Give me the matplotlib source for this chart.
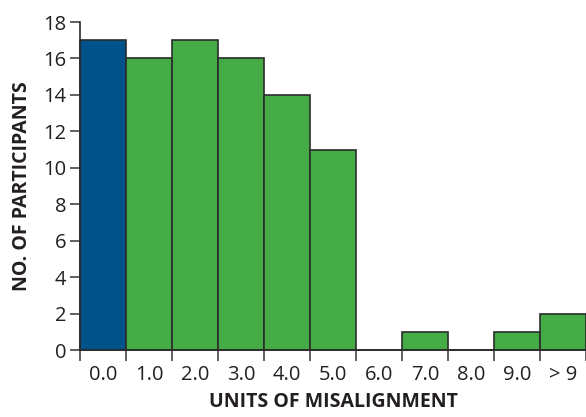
import matplotlib.pyplot as plt
import numpy as np

categories = ['0.0', '1.0', '2.0', '3.0', '4.0', '5.0', '6.0', '7.0', '8.0', '9.0', '> 9']
participants = [17, 16, 17, 16, 14, 11, 0, 1, 0, 1, 2]
colors = ['#00528a'] + ['#45ab45'] * 10

plt.rcParams['font.family'] = ['Open Sans', 'DejaVu Sans']

fig = plt.figure(figsize=(5.86, 4.17), dpi=100)
ax = fig.add_axes([80 / 586, 1 - 350 / 417, 1 - 80 / 586, (350 - 22) / 417])

x = np.arange(len(categories))
ax.bar(x, participants, width=1.0, color=colors, edgecolor='#2b2b2b', linewidth=1.2,
       clip_on=False, zorder=2)

ax.set_xlim(-0.5, len(categories) - 0.5)
ax.set_ylim(0, 18)
ax.set_yticks(range(0, 19, 2))

# labels centred under bars, tick marks at bar edges
ax.set_xticks(x)
ax.set_xticklabels(categories)
ax.set_xticks(np.arange(-0.5, len(categories) + 0.5), minor=True)
ax.tick_params(axis='x', which='major', length=0, pad=11, labelsize=14.5, colors='#231f20')
ax.tick_params(axis='x', which='minor', length=8, width=1.2, direction='out', color='#444444')
ax.tick_params(axis='y', length=7, width=1.2, labelsize=14.5, colors='#231f20', pad=3)
ax.tick_params(axis='y', color='#444444')

for side in ['top', 'right']:
    ax.spines[side].set_visible(False)
for side in ['left', 'bottom']:
    ax.spines[side].set_linewidth(1.2)
    ax.spines[side].set_color('#2b2b2b')

ax.set_xlabel('UNITS OF MISALIGNMENT', fontsize=14, fontweight='bold', color='#231f20', labelpad=5)
ax.set_ylabel('NO. OF PARTICIPANTS', fontsize=14, fontweight='bold', color='#231f20', labelpad=8)

fig.savefig('out.png', dpi=100)
